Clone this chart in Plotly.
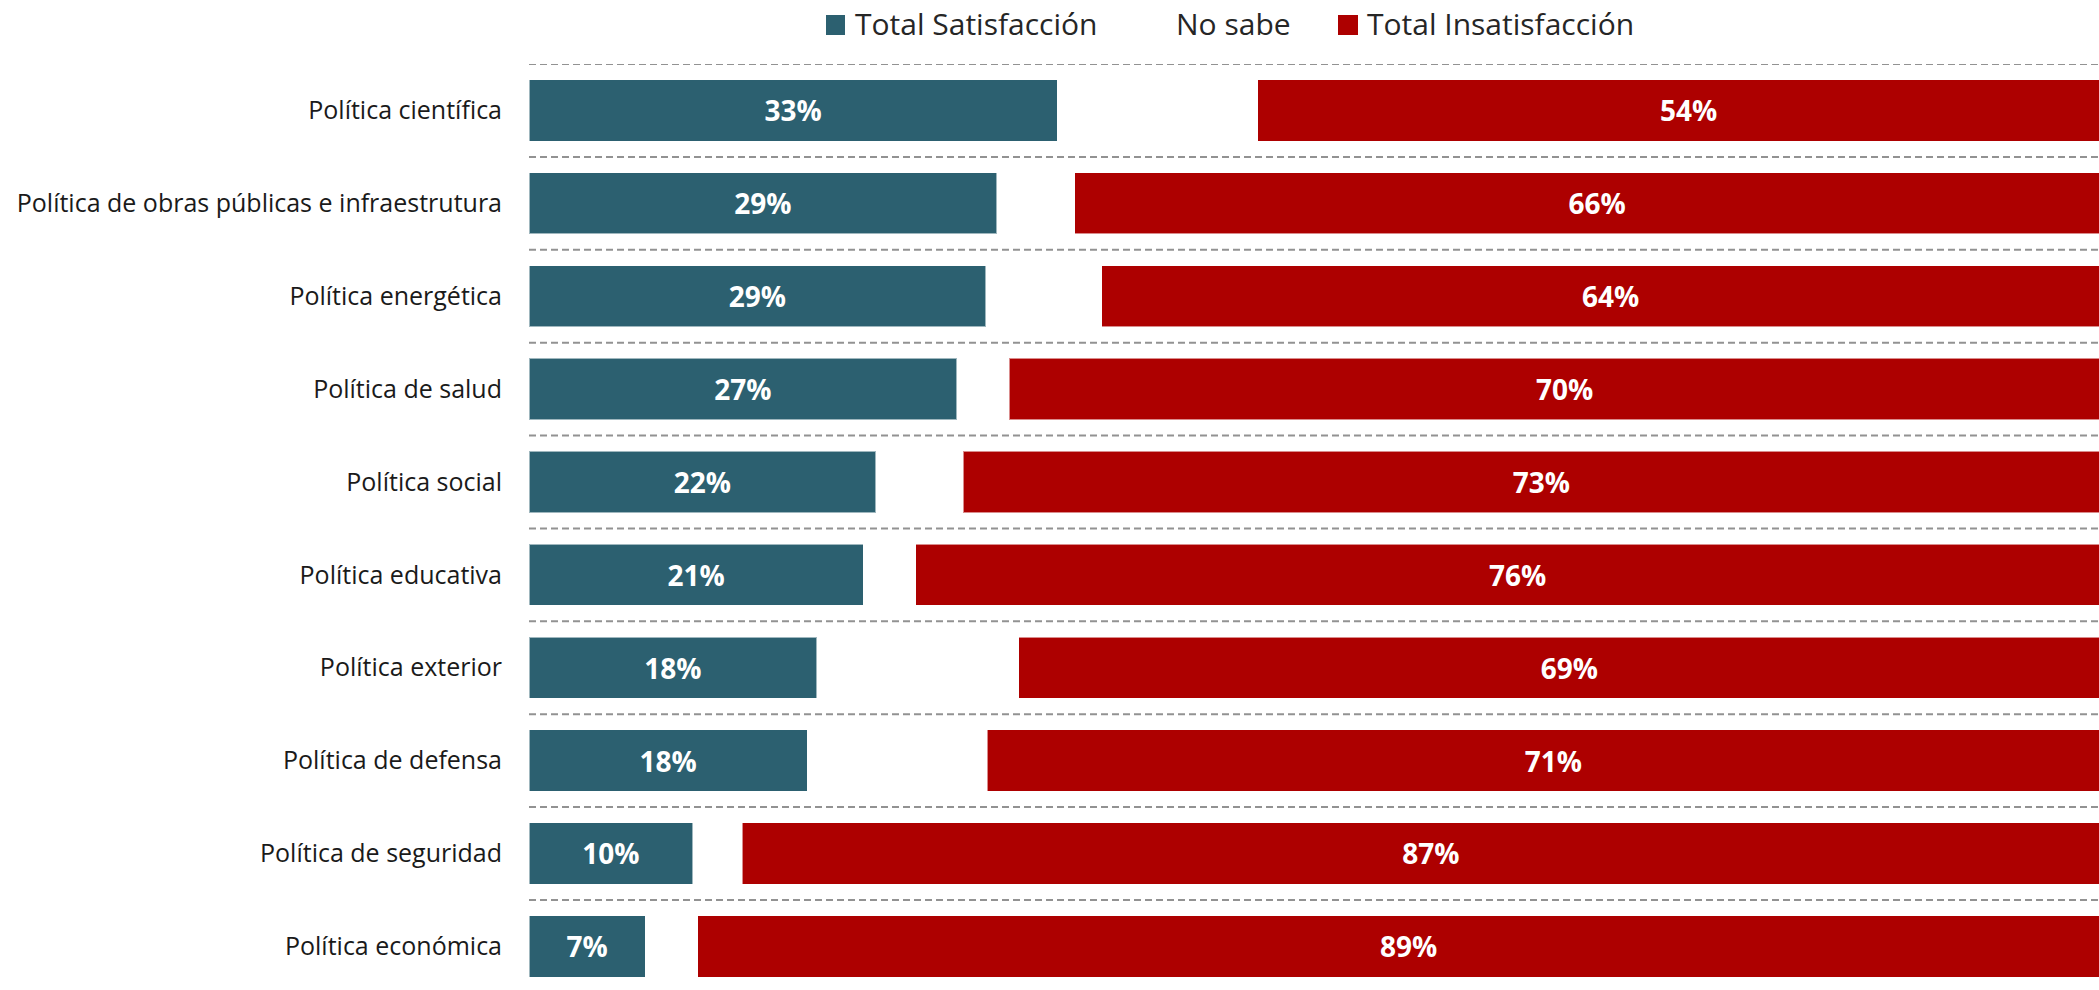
import plotly.graph_objects as go

categories = [
    "Política científica",
    "Política de obras públicas e infraestrutura",
    "Política energética",
    "Política de salud",
    "Política social",
    "Política educativa",
    "Política exterior",
    "Política de defensa",
    "Política de seguridad",
    "Política económica",
]
satisfaccion = [33.2, 29.4, 28.7, 26.9, 21.8, 21.0, 18.1, 17.5, 10.3, 7.3]
insatisfaccion = [54.2, 65.7, 64.0, 69.8, 72.7, 75.7, 69.2, 71.2, 86.6, 89.4]
no_sabe = [100 - s - i for s, i in zip(satisfaccion, insatisfaccion)]
legend_labels = ["Total Satisfacción", "No sabe", "Total Insatisfacción"]

TEAL = "#2C6070"
RED = "#AD0000"
FONT = "Open Sans"

W, H = 2099, 990
ML, MR, MT, MB = 529, 0, 64, 0


def px_x(px):
    return (px - ML) / (W - ML - MR)


def px_y(py):
    return (H - MB - py) / (H - MT - MB)


fig = go.Figure()
fig.add_trace(go.Bar(
    y=categories, x=satisfaccion, orientation="h", name=legend_labels[0],
    marker=dict(color=TEAL, line=dict(color="rgba(255,255,255,0.55)", width=1)),
    text=[f"{v:.0f}%" for v in satisfaccion], textposition="inside",
    insidetextanchor="middle", constraintext="none",
    textfont=dict(family=FONT, size=28, color="white", weight="bold"),
))
fig.add_trace(go.Bar(
    y=categories, x=no_sabe, orientation="h", name=legend_labels[1],
    marker=dict(color="rgba(255,255,255,0)", line=dict(width=0)),
    hoverinfo="skip",
))
fig.add_trace(go.Bar(
    y=categories, x=insatisfaccion, orientation="h", name=legend_labels[2],
    marker=dict(color=RED, line=dict(color="rgba(255,255,255,0.55)", width=1)),
    text=[f"{v:.0f}%" for v in insatisfaccion], textposition="inside",
    insidetextanchor="middle", constraintext="none",
    textfont=dict(family=FONT, size=28, color="white", weight="bold"),
))

n = len(categories)
for i in range(n + 1):
    fig.add_shape(
        type="line", xref="x domain", yref="y",
        x0=0, x1=1, y0=i - 0.5, y1=i - 0.5,
        line=dict(color="#929292", width=2, dash="7px,4px"),
        layer="below",
    )

# Legend drawn manually (square swatches + text) to match the original layout
legend_y_top, legend_y_bot = 15, 35
swatches = [(826, 845, TEAL), (None, None, None), (1338, 1358, RED)]
text_x = [855, 1176, 1367]
for (x0, x1, col), tx, lab in zip(swatches, text_x, legend_labels):
    if col is not None:
        fig.add_shape(
            type="rect", xref="paper", yref="paper",
            x0=px_x(x0), x1=px_x(x1), y0=px_y(legend_y_bot), y1=px_y(legend_y_top),
            fillcolor=col, line=dict(width=0),
        )
    fig.add_annotation(
        text=lab, xref="paper", yref="paper", x=px_x(tx - 2), y=px_y(24),
        xanchor="left", yanchor="middle", showarrow=False,
        font=dict(family=FONT, size=30, color="#262626"),
    )

fig.update_layout(
    width=W, height=H,
    barmode="stack", bargap=0.34,
    plot_bgcolor="white", paper_bgcolor="white",
    margin=dict(l=ML, r=MR, t=MT, b=MB, autoexpand=False),
    font=dict(family=FONT, color="#1a1a1a"),
    showlegend=False,
    xaxis=dict(range=[0, 98.7], visible=False, fixedrange=True, automargin=False),
    yaxis=dict(
        type="category", range=[n - 0.53, -0.5], automargin=False,
        showgrid=False, zeroline=False, showline=False, ticks="",
        ticklabelstandoff=26,
        tickfont=dict(family=FONT, size=25, color="#1a1a1a"),
    ),
)

fig.write_html(
    "out.html",
    config={"displayModeBar": False},
    post_script="document.body.style.margin='0';document.body.style.overflow='hidden';",
)
